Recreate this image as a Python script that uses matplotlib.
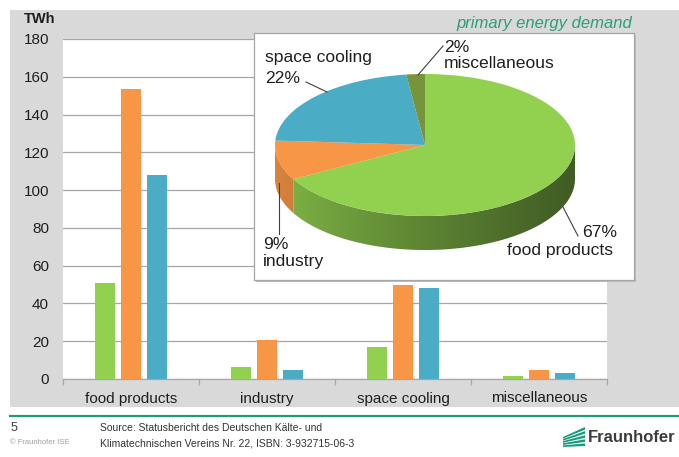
import numpy as np
import matplotlib
matplotlib.use("Agg")
import matplotlib.pyplot as plt
from matplotlib.patches import Rectangle, Polygon
from matplotlib.lines import Line2D
from matplotlib.colors import to_rgb

plt.rcParams['font.family'] = ['Liberation Sans', 'DejaVu Sans']

# ---- data -------------------------------------------------------------
categories = ["food products", "industry", "space cooling", "miscellaneous"]
series_green = [51.0, 6.5, 17.0, 1.4]
series_orange = [153.5, 20.5, 50.0, 4.8]
series_blue = [108.0, 5.0, 48.3, 3.0]
bar_colors = ["#92D050", "#F79646", "#4BACC6"]
y_ticks = [0, 20, 40, 60, 80, 100, 120, 140, 160, 180]

pie_names = ["food products", "industry", "space cooling", "miscellaneous"]
pie_shares = [67, 9, 22, 2]
pie_colors = ["#92D050", "#F79646", "#4BACC6", "#77933C"]

# ---- figure helpers (pixel layout) -------------------------------------
W, H, DPI = 679, 457, 100
fig = plt.figure(figsize=(W / DPI, H / DPI), dpi=DPI)
fig.patch.set_facecolor("white")


def fx(x):
    return x / W


def fy(y):
    return 1 - y / H


TEXT = "#1F1F1F"
GRID = "#A6A6A6"

# grey slide panel behind the chart
fig.add_artist(Rectangle((fx(10), fy(407)), (W - 10) / W, (407 - 10) / H,
                         transform=fig.transFigure, facecolor="#D9D9D9",
                         edgecolor="none", zorder=-2))

# ---- bar chart ---------------------------------------------------------
ax = fig.add_axes([fx(63), fy(379), 544 / W, 340 / H])
ax.set_facecolor("white")
x = np.arange(len(categories))
offsets = [-0.19, 0.0, 0.19]
for off, vals, col in zip(offsets, [series_green, series_orange, series_blue], bar_colors):
    ax.bar(x + off, vals, width=0.152, color=col, zorder=3)

ax.set_xlim(-0.5, len(categories) - 0.5)
ax.set_ylim(0, 180)
ax.set_yticks(y_ticks)
ax.set_yticklabels([str(v) for v in y_ticks], fontsize=11, color=TEXT)
ax.set_xticks(x)
ax.set_xticklabels(categories, fontsize=11, color=TEXT)
ax.set_xticks(np.arange(-0.5, len(categories)), minor=True)
ax.tick_params(axis="y", length=0, pad=10)
ax.tick_params(axis="x", which="major", length=0, pad=9)
ax.tick_params(axis="x", which="minor", length=4, color=GRID, width=0.9)
ax.grid(axis="y", color=GRID, linewidth=0.9)
ax.set_axisbelow(True)
for s in ("left", "top", "right"):
    ax.spines[s].set_visible(False)
ax.spines["bottom"].set_color(GRID)
ax.spines["bottom"].set_linewidth(0.9)

fig.text(fx(40), fy(19), "TWh", fontsize=10.5, fontweight="bold",
         color=TEXT, ha="center", va="center")

# ---- inset: 3D-style pie of primary energy demand ----------------------
box_l, box_t, box_r, box_b = 254, 33, 634, 280
fig.add_artist(Rectangle((fx(box_l + 2), fy(box_b + 2)), (box_r - box_l) / W,
                         (box_b - box_t) / H, transform=fig.transFigure,
                         facecolor="#BDBDBD", edgecolor="none", zorder=0.5))
pax = fig.add_axes([fx(box_l), fy(box_b), (box_r - box_l) / W, (box_b - box_t) / H])
pax.set_zorder(1)
pax.set_facecolor("white")

cx, cy, rx, ry, depth_px = 425, 145, 150, 71, 34
d = depth_px / ry

# side walls of the front half, shaded left-to-right
cum = np.concatenate([[0], np.cumsum(pie_shares)]) / np.sum(pie_shares)
xs = np.linspace(-1, 1, 256)
shade = 0.88 - 0.44 * ((xs + 1) / 2) ** 0.85
for i, col in enumerate(pie_colors):
    a_hi = 90 - 360 * cum[i]
    a_lo = 90 - 360 * cum[i + 1]
    for k in (-360, 0, 360):
        lo, hi = max(a_lo + k, -180), min(a_hi + k, 0)
        if hi <= lo:
            continue
        t = np.radians(np.linspace(lo, hi, 120))
        top = np.column_stack([np.cos(t), np.sin(t)])
        bot = np.column_stack([np.cos(t), np.sin(t) - d])[::-1]
        poly = Polygon(np.vstack([top, bot]), closed=True, facecolor="none",
                       edgecolor="none", transform=pax.transData)
        pax.add_patch(poly)
        rgb = np.array(to_rgb(col))
        img = (shade[None, :, None] * rgb[None, None, :]).repeat(2, axis=0)
        im = pax.imshow(img, extent=(-1, 1, -1 - d, 0), aspect="auto",
                        interpolation="bilinear", zorder=1)
        im.set_clip_path(poly)

pax.pie(pie_shares, colors=pie_colors, startangle=90, counterclock=False,
        radius=1, center=(0, 0), frame=True,
        wedgeprops=dict(linewidth=0, zorder=3))
pax.set_aspect("auto")
pax.set_xlim((box_l - cx) / rx, (box_r - cx) / rx)
pax.set_ylim((cy - box_b) / ry, (cy - box_t) / ry)
pax.set_xticks([])
pax.set_yticks([])
for s in pax.spines.values():
    s.set_color(GRID)
    s.set_linewidth(0.9)

fig.text(fx(632), fy(28), "primary energy demand", fontsize=12, style="italic",
         color="#2E9E78", ha="right", va="baseline")

LBL = 12.6


def label(xp, yp, s, ha="left"):
    fig.text(fx(xp), fy(yp), s, fontsize=LBL, color=TEXT, ha=ha, va="baseline", zorder=5)


def leader(pts):
    xs_, ys_ = zip(*pts)
    fig.add_artist(Line2D([fx(v) for v in xs_], [fy(v) for v in ys_],
                          transform=fig.transFigure, color="#404040",
                          linewidth=0.8, zorder=5))


label(265, 62, pie_names[2])
label(265, 83, f"{pie_shares[2]}%")
leader([(306, 82), (327, 92)])

label(444, 52, f"{pie_shares[3]}%")
label(444, 68, pie_names[3])
leader([(443, 46), (418, 75)])

label(617, 237, f"{pie_shares[0]}%", ha="right")
label(507, 255, pie_names[0])
leader([(563, 207), (578, 236)])

label(263, 249, f"{pie_shares[1]}%")
label(263, 266, pie_names[1])
leader([(279, 183), (279, 234)])

# ---- slide footer ------------------------------------------------------
fig.add_artist(Line2D([fx(10), fx(679)], [fy(416), fy(416)], transform=fig.transFigure,
                      color="#1E9C78", linewidth=1.6))
fig.text(fx(11), fy(428), "5", fontsize=9, color="#404040", va="center")
fig.text(fx(10), fy(443), "© Fraunhofer ISE", fontsize=5.5, color="#A0A0A0", va="center")
fig.text(fx(100), fy(428), "Source: Statusbericht des Deutschen Kälte- und",
         fontsize=7.5, color="#333333", va="center")
fig.text(fx(100), fy(443), "Klimatechnischen Vereins Nr. 22, ISBN: 3-932715-06-3",
         fontsize=7.5, color="#333333", va="center")

# Fraunhofer logo mark: fanned green stripes
lx0, lx1 = 563, 585
for i in range(5):
    yr0 = 427 + i * 4.1
    yl0 = 437 + i * 2.1
    pts = [(lx0, yl0), (lx1, yr0), (lx1, yr0 + 2.6), (lx0, yl0 + 1.6)]
    fig.add_artist(Polygon([(fx(a), fy(b)) for a, b in pts], closed=True,
                           transform=fig.transFigure, facecolor="#179C7D",
                           edgecolor="none"))
fig.text(fx(588), fy(438), "Fraunhofer", fontsize=12, fontweight="bold",
         color="#3C3C3C", va="center")

fig.savefig("out.png", dpi=DPI)
